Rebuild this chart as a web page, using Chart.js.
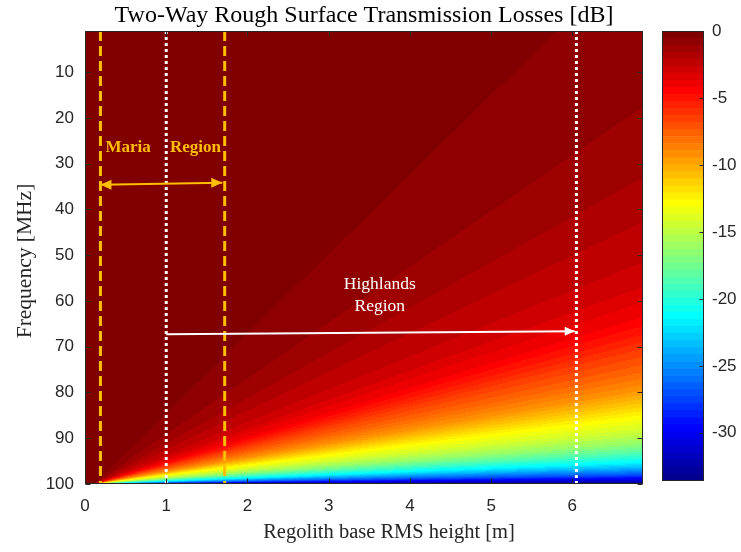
<!DOCTYPE html>
<html>
<head>
<meta charset="utf-8">
<script src="https://cdn.jsdelivr.net/npm/chart.js@4.4.0/dist/chart.umd.min.js"></script>
<style>
  html, body { margin: 0; padding: 0; background: #ffffff; }
  #wrap { position: relative; width: 741px; height: 552px; overflow: hidden; }
  #main { position: absolute; left: 0; top: 0; }
  #cbar { position: absolute; left: 650px; top: 0; }
</style>
</head>
<body>
<div id="wrap">
  <canvas id="main" width="741" height="552"></canvas>
  <canvas id="cbar" width="91" height="552"></canvas>
</div>
<script>
// ---- axes ----
const heightRange = [0, 6.87];          // regolith base RMS height [m]
const freqRange = [1, 100];             // frequency [MHz]
const xTicks = [0, 1, 2, 3, 4, 5, 6];
const yTicks = [10, 20, 30, 40, 50, 60, 70, 80, 90, 100];
const cbarTicks = [-30, -25, -20, -15, -10, -5, 0];
const lossRange = [-33.6, 0];           // colour limits [dB]

// ---- loss field ----
// Iso-loss lines fan out from a common apex; each line is identified by its
// slope (MHz of frequency per metre of RMS height, measured from the apex).
const fanApex = [0.11, 100];
const fanSlope  = [0, 0.03, 0.133, 0.30, 0.52, 0.71, 1.01, 1.33, 1.75, 2.16, 2.62, 3.03, 3.68, 4.33, 4.75, 5.40, 6.51, 7.40, 8.48, 9.91, 12.2, 17.4, 40, 1000];
const fanLossDb = [-33.6, -33.1, -30.8, -27, -23.7, -21.3, -18.6, -16.3, -14.3, -12.9, -11, -9.4, -7.7, -6.4, -5.4, -4.2, -3.0, -2.5, -2.1, -1.575, -1.05, -0.525, -0.1, 0];

// ---- region markers ----
const mariaBounds = [0.19, 1.72];
const highlandBounds = [1.0, 6.05];
const mariaArrow = { x: [0.19, 1.69], y: [34.6, 34.15] };
const highlandArrow = { x: [1.0, 6.03], y: [67.3, 66.6] };

const ORANGE = '#FFBF00';
const AXIS_GRAY = '#262626';
const SERIF = '"Liberation Serif", "Times New Roman", serif';
const SANS = '"Liberation Sans", Arial, sans-serif';
const LEVELS = 64;

// MATLAB-style jet colormap, 64 steps
function jetColor(k) {              // k = 1..64
  let r, g, b;
  r = k <= 24 ? 0 : k <= 40 ? (k - 24) / 16 : k <= 56 ? 1 : 1 - (k - 56) / 16;
  g = k <= 8 ? 0 : k <= 24 ? (k - 8) / 16 : k <= 40 ? 1 : k <= 56 ? 1 - (k - 40) / 16 : 0;
  b = k <= 8 ? 0.5 + k / 16 : k <= 24 ? 1 : k <= 40 ? 1 - (k - 24) / 16 : 0;
  return [Math.round(r * 255), Math.round(g * 255), Math.round(b * 255)];
}
const jetTable = Array.from({ length: LEVELS }, (_, i) => jetColor(i + 1));
function levelOf(v) {
  const t = (v - lossRange[0]) / (lossRange[1] - lossRange[0]);
  return Math.max(0, Math.min(LEVELS - 1, Math.floor(t * LEVELS)));
}

function lossAt(h, f) {
  const dh = h - fanApex[0];
  const df = fanApex[1] - f;
  if (dh <= 0) return 0;
  const s = Math.max(0, df) / dh;
  if (s >= fanSlope[fanSlope.length - 1]) return fanLossDb[fanLossDb.length - 1];
  let i = 1;
  while (fanSlope[i] < s) i++;
  const s0 = fanSlope[i - 1], s1 = fanSlope[i];
  const u = (s - s0) / (s1 - s0);
  return fanLossDb[i - 1] + u * (fanLossDb[i] - fanLossDb[i - 1]);
}

// filled loss map painted pixel by pixel through the chart scales
const lossFieldPlugin = {
  id: 'lossField',
  beforeDatasetsDraw(chart) {
    const { ctx, chartArea: a, scales: { x, y } } = chart;
    const w = Math.round(a.right - a.left), hgt = Math.round(a.bottom - a.top);
    const off = document.createElement('canvas');
    off.width = w; off.height = hgt;
    const octx = off.getContext('2d');
    const img = octx.createImageData(w, hgt);
    for (let j = 0; j < hgt; j++) {
      const f = y.getValueForPixel(a.top + j + 0.5);
      for (let i = 0; i < w; i++) {
        const h = x.getValueForPixel(a.left + i + 0.5);
        const c = jetTable[levelOf(lossAt(h, f))];
        const p = (j * w + i) * 4;
        img.data[p] = c[0]; img.data[p + 1] = c[1]; img.data[p + 2] = c[2]; img.data[p + 3] = 255;
      }
    }
    octx.putImageData(img, 0, 0);
    ctx.drawImage(off, a.left, a.top);
  }
};

function arrowHead(ctx, xt, yt, dir, len, half, color) {
  ctx.save();
  ctx.fillStyle = color;
  ctx.beginPath();
  ctx.moveTo(xt, yt);
  ctx.lineTo(xt - dir * len, yt - half);
  ctx.lineTo(xt - dir * len, yt + half);
  ctx.closePath();
  ctx.fill();
  ctx.restore();
}

// axes box, inward ticks, arrowheads and text labels
const decorPlugin = {
  id: 'decor',
  afterDatasetsDraw(chart) {
    const { ctx, chartArea: a, scales: { x, y } } = chart;
    // arrowheads
    const mx0 = x.getPixelForValue(mariaArrow.x[0]), my0 = y.getPixelForValue(mariaArrow.y[0]);
    const mx1 = x.getPixelForValue(mariaArrow.x[1]), my1 = y.getPixelForValue(mariaArrow.y[1]);
    arrowHead(ctx, mx0, my0, -1, 11, 5, ORANGE);
    arrowHead(ctx, mx1, my1, 1, 11, 5, ORANGE);
    const hx1 = x.getPixelForValue(highlandArrow.x[1]), hy1 = y.getPixelForValue(highlandArrow.y[1]);
    arrowHead(ctx, hx1, hy1, 1, 10, 4.5, '#ffffff');

    // region labels
    ctx.save();
    ctx.textAlign = 'center';
    ctx.textBaseline = 'alphabetic';
    ctx.fillStyle = ORANGE;
    ctx.font = 'bold 17px ' + SERIF;
    ctx.fillText('Maria', x.getPixelForValue(0.53), y.getPixelForValue(27.5));
    ctx.fillText('Region', x.getPixelForValue(1.36), y.getPixelForValue(27.5));
    ctx.fillStyle = '#ffffff';
    ctx.font = '17.5px ' + SERIF;
    ctx.fillText('Highlands', x.getPixelForValue(3.63), y.getPixelForValue(57.4));
    ctx.fillText('Region', x.getPixelForValue(3.63), y.getPixelForValue(62.2));
    ctx.restore();

    // box + inward ticks
    ctx.save();
    ctx.strokeStyle = AXIS_GRAY;
    ctx.lineWidth = 1;
    ctx.beginPath();
    const L = Math.round(a.left) + 0.5, R = Math.round(a.right) - 0.5;
    const T = Math.round(a.top) + 0.5, B = Math.round(a.bottom) - 0.5;
    ctx.rect(L, T, R - L, B - T);
    const tl = 5;
    xTicks.forEach(v => {
      const px = Math.round(x.getPixelForValue(v)) + 0.5;
      ctx.moveTo(px, B); ctx.lineTo(px, B - tl);
      ctx.moveTo(px, T); ctx.lineTo(px, T + tl);
    });
    yTicks.forEach(v => {
      const py = Math.round(y.getPixelForValue(v)) + 0.5;
      ctx.moveTo(L, py); ctx.lineTo(L + tl, py);
      ctx.moveTo(R, py); ctx.lineTo(R - tl, py);
    });
    ctx.stroke();
    ctx.restore();
  },
  afterDraw(chart) {
    const { ctx, chartArea: a } = chart;
    ctx.save();
    ctx.fillStyle = '#000000';
    ctx.textAlign = 'center';
    ctx.textBaseline = 'alphabetic';
    ctx.font = '24px ' + SERIF;
    ctx.fillText('Two-Way Rough Surface Transmission Losses [dB]', (a.left + a.right) / 2, 22);
    ctx.fillStyle = AXIS_GRAY;
    ctx.font = '20.5px ' + SERIF;
    ctx.fillText('Regolith base RMS height [m]', 389, 538);
    ctx.font = '21.5px ' + SERIF;
    ctx.translate(31, 261);
    ctx.rotate(-Math.PI / 2);
    ctx.fillText('Frequency [MHz]', 0, 0);
    ctx.restore();
  }
};

function vline(xv, color, dash) {
  return {
    data: [{ x: xv, y: freqRange[0] }, { x: xv, y: freqRange[1] }],
    showLine: true, borderColor: color, borderWidth: 3, borderDash: dash,
    pointRadius: 0, borderCapStyle: 'butt'
  };
}
function arrowLine(a, color, w) {
  return {
    data: a.x.map((xv, i) => ({ x: xv, y: a.y[i] })),
    showLine: true, borderColor: color, borderWidth: w, pointRadius: 0
  };
}

new Chart(document.getElementById('main'), {
  type: 'scatter',
  data: {
    datasets: [
      arrowLine(mariaArrow, ORANGE, 2),
      arrowLine(highlandArrow, '#ffffff', 2),
      vline(mariaBounds[0], ORANGE, [10, 5]),
      vline(mariaBounds[1], ORANGE, [10, 5]),
      vline(highlandBounds[0], '#ffffff', [3, 3]),
      vline(highlandBounds[1], '#ffffff', [3, 3])
    ]
  },
  options: {
    responsive: false,
    animation: false,
    events: [],
    devicePixelRatio: 1,
    layout: { padding: { top: 31, right: 98, bottom: 0, left: 0 } },
    plugins: { legend: { display: false }, tooltip: { enabled: false } },
    scales: {
      x: {
        type: 'linear', min: heightRange[0], max: heightRange[1],
        grid: { display: false, drawTicks: false }, border: { display: false },
        afterBuildTicks: s => { s.ticks = xTicks.map(v => ({ value: v })); },
        afterFit: s => { s.height = 68; },
        ticks: { font: { family: SANS, size: 17 }, color: AXIS_GRAY, padding: 12, maxRotation: 0, autoSkip: false }
      },
      y: {
        type: 'linear', reverse: true, min: freqRange[0], max: freqRange[1],
        grid: { display: false, drawTicks: false }, border: { display: false },
        afterBuildTicks: s => { s.ticks = yTicks.map(v => ({ value: v })); },
        afterFit: s => { s.width = 85; },
        ticks: { font: { family: SANS, size: 17 }, color: AXIS_GRAY, padding: 11, autoSkip: false }
      }
    }
  },
  plugins: [lossFieldPlugin, decorPlugin]
});

// ---- colour bar: one floating bar per colormap step ----
const stepDb = (lossRange[1] - lossRange[0]) / LEVELS;
const cbarDatasets = jetTable.map((c, i) => ({
  data: [[lossRange[0] + i * stepDb, lossRange[0] + (i + 1) * stepDb]],
  backgroundColor: `rgb(${c[0]},${c[1]},${c[2]})`,
  borderWidth: 0, barPercentage: 1, categoryPercentage: 1, grouped: false
}));

const cbarFrame = {
  id: 'cbarFrame',
  afterDatasetsDraw(chart) {
    const { ctx, chartArea: a, scales: { y } } = chart;
    ctx.save();
    ctx.strokeStyle = AXIS_GRAY;
    ctx.lineWidth = 1;
    ctx.beginPath();
    const L = Math.round(a.left) + 0.5, R = Math.round(a.right) - 0.5;
    const T = Math.round(a.top) + 0.5, B = Math.round(a.bottom) - 0.5;
    ctx.rect(L, T, R - L, B - T);
    cbarTicks.forEach(v => {
      const py = Math.round(y.getPixelForValue(v)) + 0.5;
      ctx.moveTo(R, py); ctx.lineTo(R - 4, py);
    });
    ctx.stroke();
    ctx.restore();
  }
};

new Chart(document.getElementById('cbar'), {
  type: 'bar',
  data: { labels: ['loss'], datasets: cbarDatasets },
  options: {
    responsive: false,
    animation: false,
    events: [],
    devicePixelRatio: 1,
    layout: { padding: { top: 31, right: 0, bottom: 71, left: 12 } },
    plugins: { legend: { display: false }, tooltip: { enabled: false } },
    scales: {
      x: { display: false },
      y: {
        position: 'right', min: lossRange[0], max: lossRange[1],
        grid: { display: false, drawTicks: false }, border: { display: false },
        afterBuildTicks: s => { s.ticks = cbarTicks.map(v => ({ value: v })); },
        afterFit: s => { s.width = 37; },
        ticks: { font: { family: SANS, size: 17 }, color: AXIS_GRAY, padding: 8, autoSkip: false }
      }
    }
  },
  plugins: [cbarFrame]
});
</script>
</body>
</html>
